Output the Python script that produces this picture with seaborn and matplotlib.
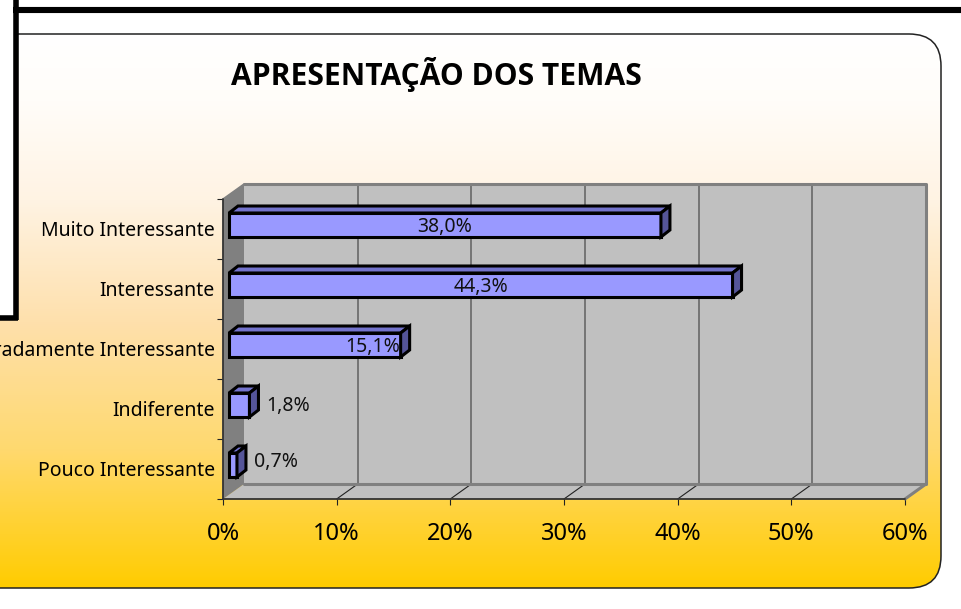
import numpy as np
import pandas as pd
import matplotlib
matplotlib.use("Agg")
import matplotlib.pyplot as plt
import seaborn as sns
from matplotlib.colors import LinearSegmentedColormap
from matplotlib.patches import FancyBboxPatch, Polygon, Rectangle

title = "APRESENTAÇÃO DOS TEMAS"
categories = ["Muito Interessante", "Interessante", "Moderadamente Interessante",
              "Indiferente", "Pouco Interessante"]
values = [38.0, 44.3, 15.1, 1.8, 0.7]
value_labels = ["38,0%", "44,3%", "15,1%", "1,8%", "0,7%"]
x_ticks = [0, 10, 20, 30, 40, 50, 60]
x_tick_labels = ["0%", "10%", "20%", "30%", "40%", "50%", "60%"]

WALL = "#C0C0C0"
SIDE_WALL = "#808080"
BAR_FRONT = "#9999FF"
BAR_TOP = "#7373CC"
BAR_SIDE = "#555599"

sns.set_theme(style="white")
plt.rcParams["font.family"] = ["Noto Sans", "DejaVu Sans"]

W, H = 961, 609
fig = plt.figure(figsize=(W / 100, H / 100), dpi=100, facecolor="white")

# --- background panel + black frame, in pixel coordinates ---
bg = fig.add_axes([0, 0, 1, 1], zorder=0)
bg.set_xlim(0, W)
bg.set_ylim(H, 0)
bg.axis("off")

cmap = LinearSegmentedColormap.from_list(
    "panel", [(0, "#FFFFFF"), (0.12, "#FFFDF9"), (0.3, "#FFF3E3"),
              (0.52, "#FEE0AC"), (0.75, "#FFD96F"), (1, "#FFCC00")])
grad = np.linspace(0, 1, 256).reshape(-1, 1)
img = bg.imshow(grad, cmap=cmap, extent=(-40, 941, 588, 34), aspect="auto", zorder=1)
panel = FancyBboxPatch((-40, 34), 981, 554, boxstyle="round,pad=0,rounding_size=32",
                       fc="none", ec="#222222", lw=1.1, zorder=2)
bg.add_patch(panel)
img.set_clip_path(panel)

bg.add_patch(Rectangle((0, 0), 14, 317, fc="white", ec="none", zorder=3))
bg.add_patch(Rectangle((0, 0), W, 10, fc="white", ec="none", zorder=3))
bg.plot([15.5, 15.5], [0, 320], color="black", lw=4, solid_capstyle="butt", zorder=4)
bg.plot([0, 18], [317.5, 317.5], color="black", lw=4, solid_capstyle="butt", zorder=4)
bg.plot([13, W], [10, 10], color="black", lw=4.4, solid_capstyle="butt", zorder=4)

bg.text(436.5, 75, title, ha="center", va="center", fontsize=21.6,
        fontweight="bold", family="Open Sans", color="black", zorder=5)

# --- chart ---
ax = fig.add_axes([223 / W, 1 - 499 / H, 682 / W, 300 / H], zorder=1)
ax.patch.set_visible(False)

df = pd.DataFrame({"categoria": categories, "valor": values})
sns.barplot(data=df, y="categoria", x="valor", orient="h", width=0.4,
            color=BAR_FRONT, saturation=1, edgecolor="black", linewidth=2.2,
            ax=ax, zorder=5)
ax.set_xlim(x_ticks[0], x_ticks[-1])
ax.set_ylim(len(categories) - 0.5, -0.5)
ax.set_xlabel("")
ax.set_ylabel("")
sns.despine(ax=ax, left=True, bottom=True)

# data units per pixel, the fake 3D is built from these
px_x = x_ticks[-1] / 682
px_y = len(categories) / 300
dx, dy = 21 * px_x, 15 * px_y
y0, y1 = len(categories) - 0.5, -0.5
x0, x1 = x_ticks[0], x_ticks[-1]

ax.add_patch(Polygon([(x0 + dx, y0 - dy), (x1 + dx, y0 - dy), (x1 + dx, y1 - dy), (x0 + dx, y1 - dy)],
                     fc=WALL, ec="none", clip_on=False, zorder=1))
ax.add_patch(Polygon([(x0, y0), (x1, y0), (x1 + dx, y0 - dy), (x0 + dx, y0 - dy)],
                     fc=WALL, ec="none", clip_on=False, zorder=1))
ax.add_patch(Polygon([(x0, y0), (x0, y1), (x0 + dx, y1 - dy), (x0 + dx, y0 - dy)],
                     fc=SIDE_WALL, ec="none", clip_on=False, zorder=2))

# gridlines on the back wall and the floor
for t in x_ticks[1:-1]:
    ax.plot([t + dx, t + dx], [y0 - dy, y1 - dy], color="#606060", lw=1.1, clip_on=False, zorder=2)
for t in x_ticks[1:-1]:
    ax.plot([t, t + dx], [y0, y0 - dy], color="#222222", lw=0.8, clip_on=False, zorder=2)

# gray wall borders
ax.plot([x0 + dx, x1 + dx, x1 + dx, x0 + dx], [y1 - dy, y1 - dy, y0 - dy, y0 - dy],
        color=SIDE_WALL, lw=2.2, clip_on=False, zorder=3)
ax.plot([x1 + dx, x1], [y0 - dy, y0], color=SIDE_WALL, lw=2.2, clip_on=False, zorder=3)
ax.plot([x0, x1], [y0, y0], color="#333333", lw=1.3, clip_on=False, zorder=4)
ax.plot([x0, x0], [y0, y1], color="#333333", lw=1.3, clip_on=False, zorder=4)
ax.plot([x0, x0 + dx], [y1, y1 - dy], color=SIDE_WALL, lw=1.1, clip_on=False, zorder=3)

# shift the seaborn bars off the wall and give them depth
gap_x, gap_y = 6 * px_x, 4 * px_y
bar_dx, bar_dy = 9 * px_x, 7 * px_y
for bar in ax.patches[:]:
    if not isinstance(bar, Rectangle):
        continue
    bar.set_x(bar.get_x() + gap_x)
    bar.set_y(bar.get_y() - gap_y)
    bar.set_joinstyle("miter")
    l, r = bar.get_x(), bar.get_x() + bar.get_width()
    t, b = bar.get_y(), bar.get_y() + bar.get_height()
    ax.add_patch(Polygon([(l, t), (r, t), (r + bar_dx, t - bar_dy), (l + bar_dx, t - bar_dy)],
                         fc=BAR_TOP, ec="black", lw=2.2, clip_on=False, zorder=5))
    ax.add_patch(Polygon([(r, t), (r + bar_dx, t - bar_dy), (r + bar_dx, b - bar_dy), (r, b)],
                         fc=BAR_SIDE, ec="black", lw=2.2, clip_on=False, zorder=5))

# value labels
bars = [b for b in ax.patches if isinstance(b, Rectangle)]
label_spots = [("center", 0, -1.5), ("center", 0, -1.5), ("right", 0, -1.5), ("left", 12, -0.5), ("left", 12.5, 2.5)]
for bar, txt, (ha, off_x, off_y) in zip(bars, value_labels, label_spots):
    right = bar.get_x() + bar.get_width()
    xpos = right / 2 + bar.get_x() / 2 if ha == "center" else right
    ax.annotate(txt, (xpos, bar.get_y() + bar.get_height() / 2), xytext=(off_x, off_y),
                textcoords="offset points", ha=ha, va="center", fontsize=14,
                color="#111111", zorder=6, annotation_clip=False)

ax.set_xticks(x_ticks, x_tick_labels, fontsize=17, color="black")
ax.set_yticks(np.arange(len(categories)), categories, fontsize=14, color="black")
ax.set_yticks(np.arange(len(categories) + 1) - 0.5, minor=True)
ax.tick_params(axis="x", which="major", length=4, width=0.8, color="#222222", pad=12.5, bottom=True)
ax.tick_params(axis="y", which="major", length=0, pad=6)
ax.tick_params(axis="y", which="minor", length=4, width=0.8, color="#222222", left=True)

fig.savefig("out.png", dpi=100)
